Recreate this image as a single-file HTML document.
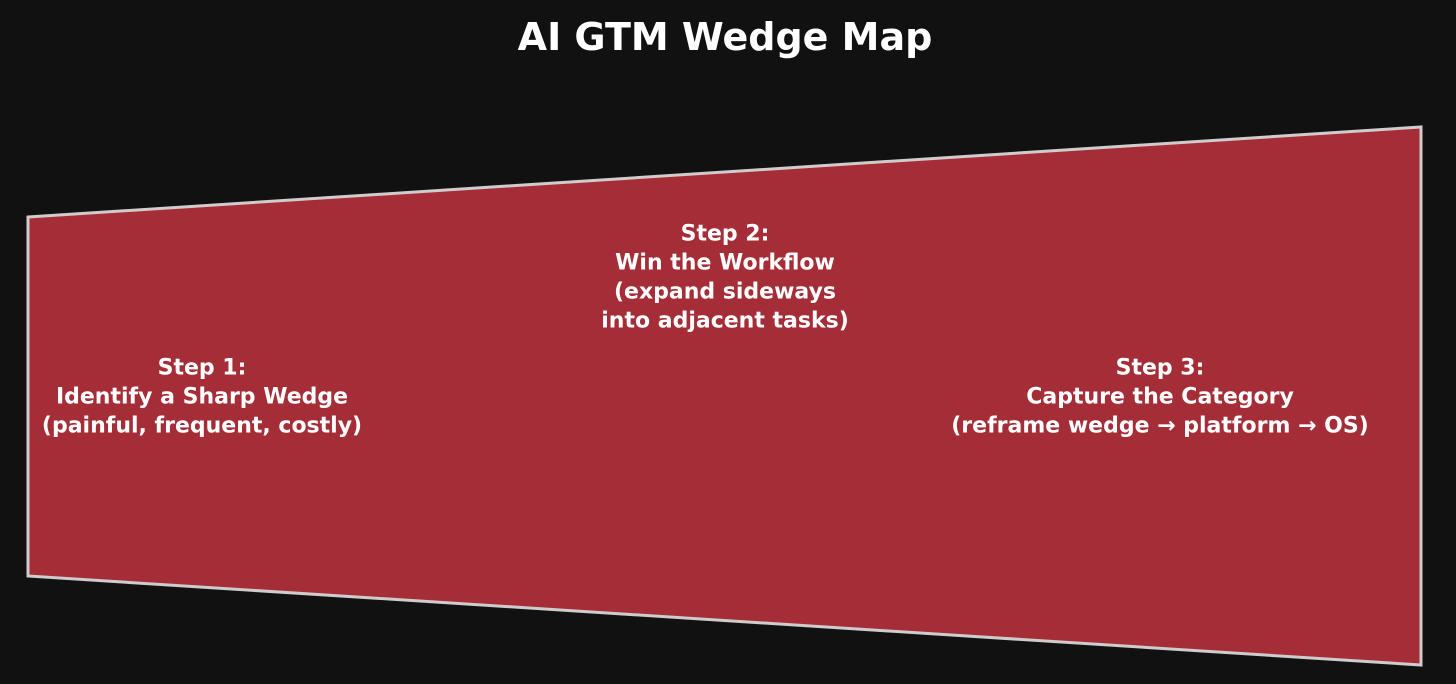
<!DOCTYPE html>
<html><head><meta charset="utf-8"><style>
html,body{margin:0;padding:0;background:#111111;}
svg{display:block;}
text{font-family:"DejaVu Sans","Liberation Sans",sans-serif;font-weight:bold;fill:#ffffff;}
</style></head><body>
<svg width="1456" height="684" viewBox="0 0 1456 684" xmlns="http://www.w3.org/2000/svg">
<rect width="1456" height="684" fill="#111111"/>
<text x="725" y="37" font-size="38" text-anchor="middle" dominant-baseline="central">AI GTM Wedge Map</text>
<polygon points="28,217 1421,127 1421,665 28,576" fill="#a52d37" stroke="#d0cccc" stroke-width="3"/>
<g font-size="22" text-anchor="middle" dominant-baseline="central">
<text x="202" y="368">Step 1:</text>
<text x="202" y="397">Identify a Sharp Wedge</text>
<text x="202" y="426">(painful, frequent, costly)</text>
<text x="725" y="234">Step 2:</text>
<text x="725" y="263">Win the Workflow</text>
<text x="725" y="292">(expand sideways</text>
<text x="725" y="321">into adjacent tasks)</text>
<text x="1160" y="368">Step 3:</text>
<text x="1160" y="397">Capture the Category</text>
<text x="1160" y="426">(reframe wedge → platform → OS)</text>
</g>
</svg>
</body></html>
